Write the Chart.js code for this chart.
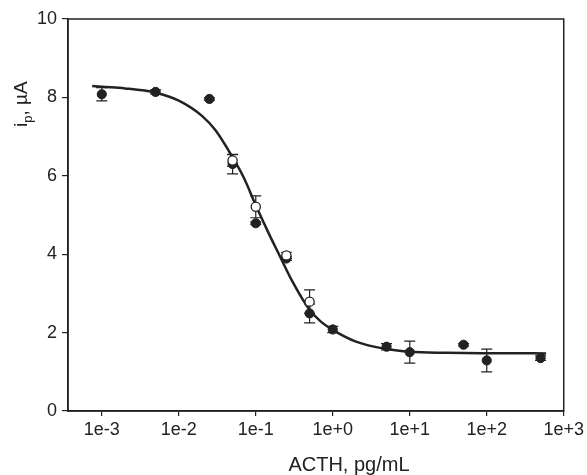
<!DOCTYPE html>
<html>
<head>
<meta charset="utf-8">
<script src="https://cdn.jsdelivr.net/npm/chart.js@4/dist/chart.umd.min.js"></script>
<style>
  html, body { margin: 0; padding: 0; background: #fff; }
</style>
</head>
<body>
<canvas id="myChart" width="587" height="475"></canvas>
<script>
// ACTH concentration (pg/mL) and peak current (uA)
const concentrations = [0.001, 0.005, 0.025, 0.05, 0.1, 0.25, 0.5, 1, 5, 10, 50, 100, 500];
const currentFilled = [8.08, 8.14, 7.96, 6.30, 4.79, 3.89, 2.49, 2.08, 1.64, 1.50, 1.69, 1.29, 1.35];
const errorFilled = [0.17, 0.05, 0.03, 0.25, 0.03, 0.05, 0.24, 0.08, 0.08, 0.28, 0.03, 0.29, 0.06];

const concentrationsOpen = [0.05, 0.1, 0.25, 0.5];
const currentOpen = [6.39, 5.21, 3.97, 2.79];
const errorOpen = [0.15, 0.28, 0.08, 0.30];

// fitted curve
const fitX = [0.00075, 0.001, 0.002, 0.005, 0.01, 0.02, 0.03, 0.05, 0.07, 0.1, 0.15, 0.2, 0.3, 0.5, 0.7, 1, 2, 5, 10, 30, 100, 590];
const fitY = [8.29, 8.27, 8.23, 8.12, 7.92, 7.53, 7.16, 6.47, 5.95, 5.25, 4.5, 4.0, 3.3, 2.58, 2.28, 2.07, 1.77, 1.58, 1.51, 1.485, 1.475, 1.47];

const xTicks = [1e-3, 1e-2, 1e-1, 1e0, 1e1, 1e2, 1e3];
const xTickLabels = ["1e-3", "1e-2", "1e-1", "1e+0", "1e+1", "1e+2", "1e+3"];
const yTicks = [0, 2, 4, 6, 8, 10];

const ink = "#222";
const font = "Liberation Sans";

function toPoints(xs, ys) {
  return xs.map((x, i) => ({ x: x, y: ys[i] }));
}

// error bars drawn with the chart's own scales
const errorBars = {
  id: "errorBars",
  beforeDatasetsDraw(chart) {
    const ctx = chart.ctx;
    const xs = chart.scales.x;
    const ys = chart.scales.y;
    const sets = [
      [concentrations, currentFilled, errorFilled],
      [concentrationsOpen, currentOpen, errorOpen],
    ];
    ctx.save();
    ctx.strokeStyle = ink;
    ctx.lineWidth = 1.2;
    sets.forEach(([cx, cy, ce]) => {
      cx.forEach((x, i) => {
        const px = xs.getPixelForValue(x);
        const top = ys.getPixelForValue(cy[i] + ce[i]);
        const bot = ys.getPixelForValue(cy[i] - ce[i]);
        ctx.beginPath();
        ctx.moveTo(px, top);
        ctx.lineTo(px, bot);
        ctx.moveTo(px - 5.5, top);
        ctx.lineTo(px + 5.5, top);
        ctx.moveTo(px - 5.5, bot);
        ctx.lineTo(px + 5.5, bot);
        ctx.stroke();
      });
    });
    ctx.restore();
  },
};

// frame and axis titles
const decorations = {
  id: "decorations",
  afterDraw(chart) {
    const ctx = chart.ctx;
    const a = chart.chartArea;
    ctx.save();
    ctx.strokeStyle = ink;
    ctx.lineWidth = 1.5;
    ctx.strokeRect(a.left, a.top, a.right - a.left, a.bottom - a.top);

    ctx.fillStyle = ink;
    ctx.font = "20px '" + font + "', sans-serif";
    ctx.textAlign = "center";
    ctx.textBaseline = "alphabetic";
    ctx.fillText("ACTH, pg/mL", 349, 471);

    // y title with subscript
    ctx.translate(27, 127);
    ctx.rotate(-Math.PI / 2);
    ctx.textAlign = "left";
    ctx.font = "19px '" + font + "', sans-serif";
    ctx.fillText("i", 0, 0);
    let w = ctx.measureText("i").width;
    ctx.font = "13px '" + font + "', sans-serif";
    ctx.fillText("p", w, 5);
    w += ctx.measureText("p").width;
    ctx.font = "19px '" + font + "', sans-serif";
    ctx.fillText(", \u00b5A", w, 0);
    ctx.restore();
  },
};

const config = {
  type: "scatter",
  data: {
    datasets: [
      {
        label: "fit",
        type: "line",
        data: toPoints(fitX, fitY),
        borderColor: ink,
        borderWidth: 2.5,
        pointRadius: 0,
        cubicInterpolationMode: "monotone",
        fill: false,
        order: 3,
      },
      {
        label: "filled",
        data: toPoints(concentrations, currentFilled),
        backgroundColor: ink,
        borderColor: ink,
        borderWidth: 1,
        pointRadius: 4.6,
        order: 2,
      },
      {
        label: "open",
        data: toPoints(concentrationsOpen, currentOpen),
        backgroundColor: "#fff",
        borderColor: ink,
        borderWidth: 1.3,
        pointRadius: 4.6,
        order: 1,
      },
    ],
  },
  options: {
    responsive: false,
    animation: false,
    layout: { padding: { top: 19, right: 20, left: 0, bottom: 0 } },
    plugins: {
      legend: { display: false },
      tooltip: { enabled: false },
    },
    scales: {
      x: {
        type: "logarithmic",
        min: 3.64e-4,
        max: 1000,
        afterBuildTicks(scale) {
          scale.ticks = xTicks.map((v) => ({ value: v }));
        },
        afterFit(scale) {
          scale.height = 64;
        },
        ticks: {
          autoSkip: false,
          maxRotation: 0,
          padding: 3,
          color: ink,
          font: { family: font, size: 18 },
          callback: (v) => xTickLabels[xTicks.indexOf(v)],
        },
        grid: { drawOnChartArea: false, drawTicks: true, tickLength: 5, color: ink, lineWidth: 1.2 },
        border: { display: true, color: ink, width: 1.5 },
      },
      y: {
        min: 0,
        max: 10,
        afterBuildTicks(scale) {
          scale.ticks = yTicks.map((v) => ({ value: v }));
        },
        afterFit(scale) {
          scale.width = 68;
        },
        ticks: {
          padding: 5,
          color: ink,
          font: { family: font, size: 18 },
        },
        grid: { drawOnChartArea: false, drawTicks: true, tickLength: 6, color: ink, lineWidth: 1.2 },
        border: { display: true, color: ink, width: 1.5 },
      },
    },
  },
  plugins: [errorBars, decorations],
};

var myChart = new Chart(document.getElementById("myChart"), config);
</script>
</body>
</html>
